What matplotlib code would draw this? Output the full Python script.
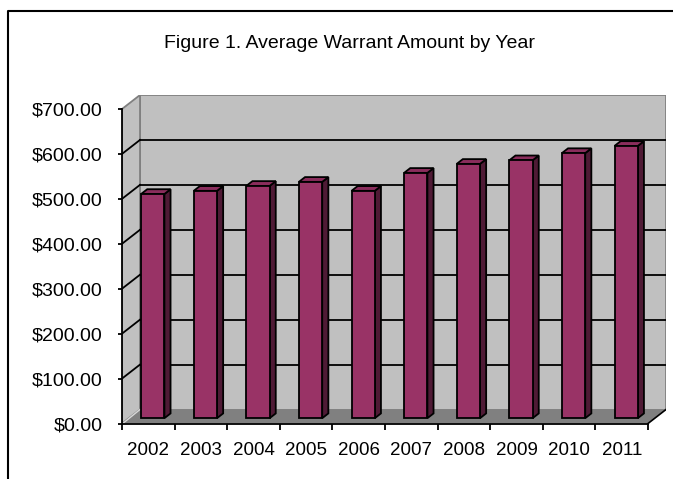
import matplotlib
matplotlib.use("Agg")
import matplotlib.pyplot as plt
from matplotlib.patches import Polygon
from matplotlib.lines import Line2D
import numpy as np

# Average warrant amount per year
years = ["2002", "2003", "2004", "2005", "2006", "2007", "2008", "2009", "2010", "2011"]
amounts = [499, 506, 517, 526, 506, 546, 566, 574, 590, 606]
y_ticks = [0, 100, 200, 300, 400, 500, 600, 700]
title = "Figure 1. Average Warrant Amount by Year"

plt.rcParams["font.family"] = ["Liberation Sans", "DejaVu Sans"]

W, H, DPI = 673, 479, 100
fig = plt.figure(figsize=(W / DPI, H / DPI), dpi=DPI)

# plot area in pixels (front plane + depth offset of the 3D box)
px_left, px_right_front = 122, 648
px_zero, px_top_front = 423.5, 109
depth_px = (18, -14)

n = len(years)
xu = (px_right_front - px_left) / n            # px per category
yu = (px_zero - px_top_front) / y_ticks[-1]    # px per value unit
DX = depth_px[0] / xu
DY = -depth_px[1] / yu

xmin, xmax = -0.5, n - 0.5 + DX
ymin, ymax = 0, y_ticks[-1] + DY
ax_l = px_left
ax_r = px_left + (xmax - xmin) * xu
ax_t = px_zero - (ymax - ymin) * yu
ax = fig.add_axes([ax_l / W, (H - px_zero) / H, (ax_r - ax_l) / W, (px_zero - ax_t) / H])
ax.set_xlim(xmin, xmax)
ax.set_ylim(ymin, ymax)
ax.patch.set_visible(False)

wall = "#C0C0C0"
floor = "#808080"
edge_gray = "#808080"
x0, x1 = -0.5, n - 0.5
ytop = y_ticks[-1]

# back wall, side wall, floor
ax.add_patch(Polygon([(x0 + DX, DY), (x1 + DX, DY), (x1 + DX, ytop + DY), (x0 + DX, ytop + DY)],
                     closed=True, facecolor=wall, edgecolor=edge_gray, lw=1.3, zorder=1))
ax.add_patch(Polygon([(x0, 0), (x0 + DX, DY), (x0 + DX, ytop + DY), (x0, ytop)],
                     closed=True, facecolor=wall, edgecolor=edge_gray, lw=1.3, zorder=1))
ax.add_patch(Polygon([(x0, 0), (x1, 0), (x1 + DX, DY), (x0 + DX, DY)],
                     closed=True, facecolor=floor, edgecolor="none", zorder=1))
ax.add_line(Line2D([x0 + 0.03, x0 + DX], [1.5, DY], color="#D8D8D8", lw=1.0, zorder=1.5))
ax.add_line(Line2D([x1, x1 + DX], [0, DY], color="black", lw=1.2, zorder=2))

# gridlines across back and side walls
for v in y_ticks[1:-1]:
    ax.add_line(Line2D([x0 + DX, x1 + DX], [v + DY, v + DY], color="black", lw=1.3, zorder=2))
    ax.add_line(Line2D([x0, x0 + DX], [v, v + DY], color="black", lw=1.3, zorder=2))

# 3D columns
d1, d2 = 0.38, 0.72
bw = 0.443
shift = -0.045
front = "#993366"
top_c = "#8A2D5C"
side_c = "#4F1A35"
xs = np.arange(n) + shift + d1 * DX
base = d1 * DY
ax.bar(xs, amounts, width=bw, bottom=base, color=front, edgecolor="black", lw=1.3, zorder=4)
dd = d2 - d1
for xc, v in zip(xs, amounts):
    xl, xr = xc - bw / 2, xc + bw / 2
    yt = base + v
    ax.add_patch(Polygon([(xr, base), (xr + dd * DX, base + dd * DY), (xr + dd * DX, yt + dd * DY), (xr, yt)],
                         closed=True, facecolor=side_c, edgecolor="black", lw=1.3, zorder=3))
    ax.add_patch(Polygon([(xl, yt), (xr, yt), (xr + dd * DX, yt + dd * DY), (xl + dd * DX, yt + dd * DY)],
                         closed=True, facecolor=top_c, edgecolor="black", lw=1.3, zorder=3))

# axes spines and ticks
for s in ["top", "right"]:
    ax.spines[s].set_visible(False)
ax.spines["left"].set_bounds(0, ytop)
ax.spines["bottom"].set_bounds(x0, x1)
ax.spines["left"].set_linewidth(1.3)
ax.spines["bottom"].set_linewidth(1.3)
ax.spines["left"].set_zorder(5)
ax.spines["bottom"].set_zorder(5)

ax.set_yticks(y_ticks)
ax.set_yticklabels([f"${v:,.2f}" for v in y_ticks], fontsize=14)
ax.tick_params(axis="y", length=3.2, width=1.3, pad=10.5)

ax.set_xticks(np.arange(n))
ax.set_xticklabels(years, fontsize=13.5)
ax.set_xticks(np.arange(n + 1) - 0.5, minor=True)
ax.tick_params(axis="x", which="major", length=0, pad=13)
ax.tick_params(axis="x", which="minor", length=4, width=1.3)

fig.text(349.5 / W, 1 - 43 / H, title, ha="center", va="center", fontsize=14)

# chart frame (top and left edges)
fig.add_artist(Line2D([8 / W, 8 / W, 1.01], [-0.01, 1 - 10.5 / H, 1 - 10.5 / H],
                      transform=fig.transFigure, color="black", lw=1.5))

fig.savefig("out.png", dpi=DPI)
